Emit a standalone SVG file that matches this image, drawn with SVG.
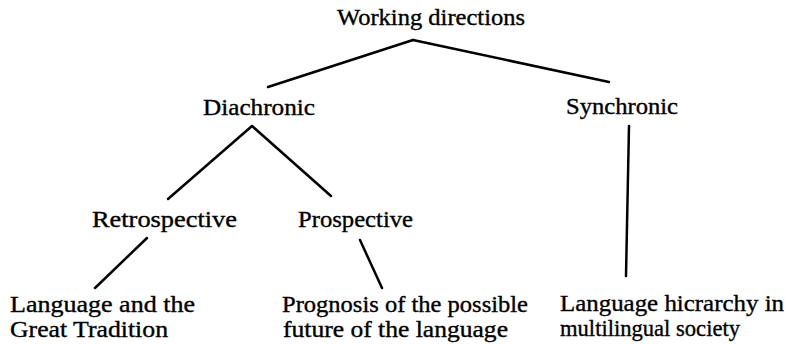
<svg xmlns="http://www.w3.org/2000/svg" width="790" height="344" viewBox="0 0 790 344">
<style>
text{font-family:"Liberation Serif","Times New Roman",serif;font-size:22.5px;fill:#000;stroke:#000;stroke-width:0.35}
.c line{stroke:#000;stroke-width:2.5;stroke-linecap:round}
</style>
<rect width="790" height="344" fill="#fff"/>
<g class="c" id="connectors">
<line x1="413" y1="40" x2="268" y2="87"/>
<line x1="413" y1="40" x2="609" y2="82"/>
<line x1="252" y1="126" x2="168" y2="199"/>
<line x1="252" y1="126" x2="331" y2="196"/>
<line x1="147" y1="238" x2="95" y2="288"/>
<line x1="360" y1="240" x2="382" y2="288"/>
<line x1="629" y1="126" x2="626" y2="276"/>
</g>
<g id="root"><text x="337" y="25" textLength="188" lengthAdjust="spacingAndGlyphs">Working directions</text></g>
<g id="diachronic"><text x="203" y="115" textLength="112" lengthAdjust="spacingAndGlyphs">Diachronic</text></g>
<g id="synchronic"><text x="566" y="114" textLength="112" lengthAdjust="spacingAndGlyphs">Synchronic</text></g>
<g id="retrospective"><text x="92" y="227" textLength="145" lengthAdjust="spacingAndGlyphs">Retrospective</text></g>
<g id="prospective"><text x="298" y="227" textLength="115" lengthAdjust="spacingAndGlyphs">Prospective</text></g>
<g id="tradition"><text x="10" y="312" textLength="185" lengthAdjust="spacingAndGlyphs">Language and the</text><text x="10" y="337" textLength="158" lengthAdjust="spacingAndGlyphs">Great Tradition</text></g>
<g id="prognosis"><text x="282" y="312" textLength="246" lengthAdjust="spacingAndGlyphs">Prognosis of the possible</text><text x="283" y="337" textLength="225" lengthAdjust="spacingAndGlyphs">future of the language</text></g>
<g id="hierarchy"><text x="560" y="311" textLength="224" lengthAdjust="spacingAndGlyphs">Language hicrarchy in</text><text x="560" y="336" textLength="180" lengthAdjust="spacingAndGlyphs">multilingual society</text></g>
</svg>
